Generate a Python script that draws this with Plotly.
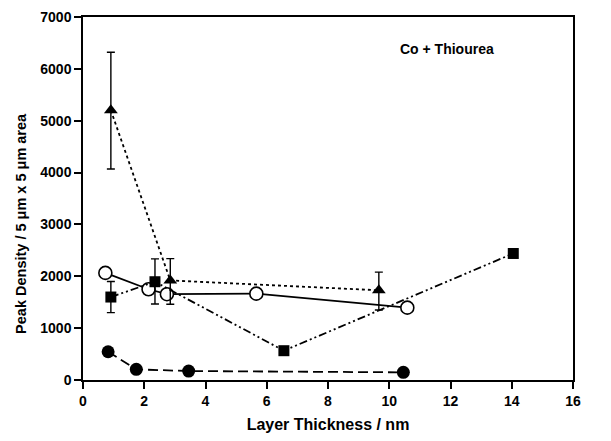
import plotly.graph_objects as go

# Triangles (dotted)
tri_x = [0.91, 2.85, 9.66]
tri_y = [5200, 1920, 1730]
tri_err_plus = [1120, 420, 350]
tri_err_minus = [1130, 460, 380]

# Filled squares (dash-dot-dot)
sq_x = [0.91, 2.35, 6.56, 14.05]
sq_y = [1600, 1895, 565, 2440]
sq_err_plus = [300, 440, 0, 80]
sq_err_minus = [300, 430, 0, 80]

# Open circles (solid)
oc_x = [0.73, 2.14, 2.74, 5.66, 10.59]
oc_y = [2065, 1750, 1655, 1665, 1395]

# Filled circles (dashed)
fc_x = [0.82, 1.74, 3.45, 10.46]
fc_y = [545, 205, 173, 148]

x_ticks = [0, 2, 4, 6, 8, 10, 12, 14, 16]
y_ticks = [0, 1000, 2000, 3000, 4000, 5000, 6000, 7000]

fig = go.Figure()

fig.add_trace(go.Scatter(
    x=oc_x, y=oc_y, mode="lines+markers",
    line=dict(color="black", width=1.8, dash="solid"),
    marker=dict(symbol="circle", size=13, color="white", line=dict(color="black", width=1.6)),
))
fig.add_trace(go.Scatter(
    x=fc_x, y=fc_y, mode="lines+markers",
    line=dict(color="black", width=1.8, dash="10px,5px"),
    marker=dict(symbol="circle", size=13, color="black"),
))
fig.add_trace(go.Scatter(
    x=sq_x, y=sq_y, mode="lines+markers",
    line=dict(color="black", width=1.8, dash="8px,3px,2px,3px,2px,3px"),
    marker=dict(symbol="square", size=11, color="black"),
    error_y=dict(type="data", array=sq_err_plus, arrayminus=sq_err_minus,
                 color="black", thickness=1.4, width=4),
))
fig.add_trace(go.Scatter(
    x=tri_x, y=tri_y, mode="lines+markers",
    line=dict(color="black", width=1.8, dash="dot"),
    marker=dict(symbol="triangle-up", size=12, color="black"),
    error_y=dict(type="data", array=tri_err_plus, arrayminus=tri_err_minus,
                 color="black", thickness=1.4, width=4),
))

fig.add_annotation(x=11.9, y=6380, text="Co + Thiourea", showarrow=False,
                   font=dict(family="Liberation Sans, Arial", size=14, color="black", weight="bold"))

# y-axis title as a rotated annotation
fig.add_annotation(
    xref="paper", yref="paper", x=-62 / 490, y=0.43, xanchor="center", yanchor="middle",
    textangle=-90, showarrow=False,
    text="Peak Density / 5 μm x 5 μm area",
    font=dict(family="Liberation Sans, Arial", size=14.5, color="black", weight="bold"),
)

fig.update_layout(
    width=603, height=433,
    margin=dict(l=75, r=38, t=9, b=61),
    paper_bgcolor="white", plot_bgcolor="white",
    showlegend=False,
    font=dict(family="Liberation Sans, Arial", color="black"),
)
fig.update_xaxes(
    range=[0, 16], tickvals=x_ticks,
    ticks="outside", ticklen=7, tickwidth=1.5, tickcolor="black",
    showline=True, linecolor="black", linewidth=1.5, mirror=True,
    showgrid=False, zeroline=False, automargin=False,
    tickfont=dict(size=14, weight="bold"),
    title=dict(text="Layer Thickness / nm", font=dict(size=16, weight="bold"), standoff=11),
)
fig.update_yaxes(
    range=[0, 7000], tickvals=y_ticks,
    ticks="outside", ticklen=7, tickwidth=1.5, tickcolor="black",
    showline=True, linecolor="black", linewidth=1.5, mirror=True,
    showgrid=False, zeroline=False, automargin=False,
    tickfont=dict(size=14, weight="bold"),
)

fig.write_html("out.html")
